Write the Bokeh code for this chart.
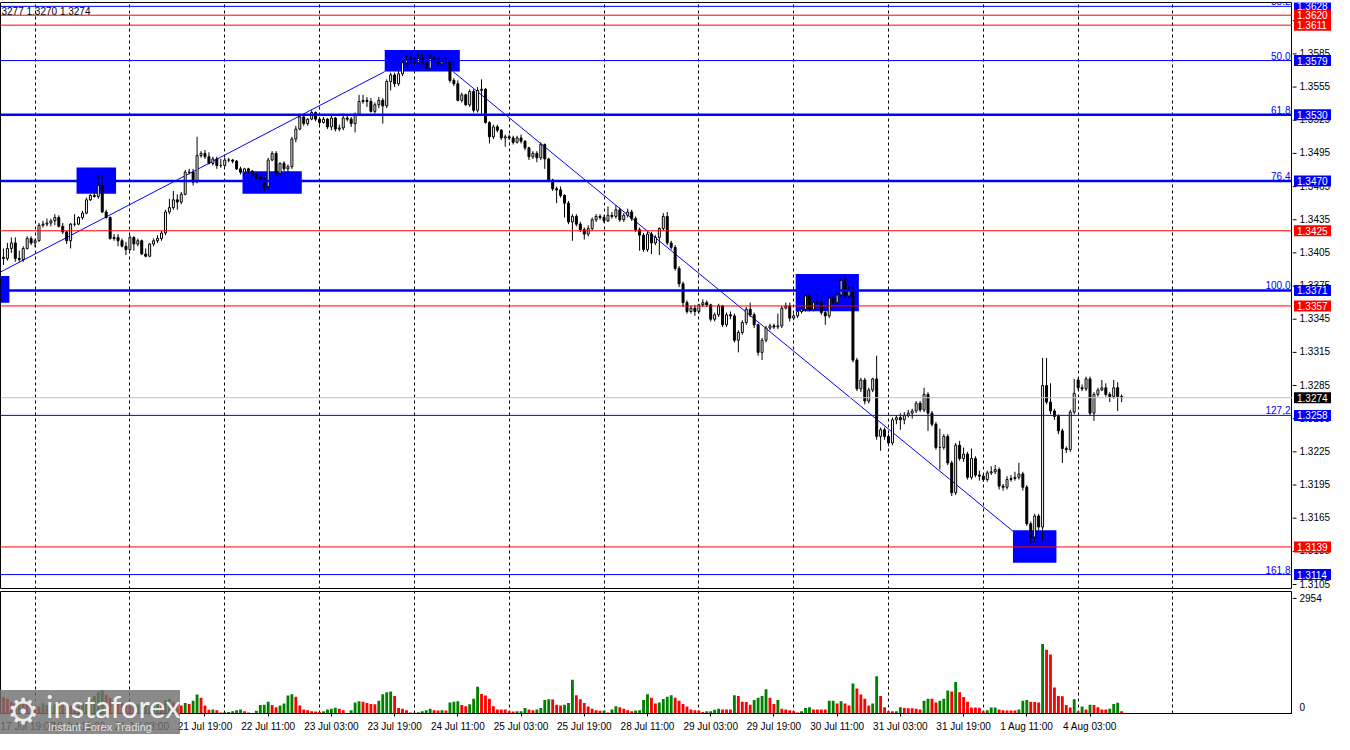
import numpy as np
from bokeh.plotting import figure
from bokeh.models import Range1d, FixedTicker, Span, Grid, Label, Div
from bokeh.layouts import column, row
from bokeh.embed import file_html
from bokeh.resources import INLINE
from bokeh.core.properties import value

FONT = "Liberation Sans"

# ---------------- data (GBPUSD H1, prices in pips: 13400 = 1.3400) ----------------
first_open = 13401
open_overrides = {272: 13290}

closes = [
    13400, 13409, 13414, 13400, 13399, 13409, 13418, 13414, 13416, 13430,
    13431, 13432, 13434, 13437, 13429, 13424, 13416, 13431, 13431, 13437,
    13441, 13453, 13457, 13456, 13466, 13442, 13437, 13418, 13419, 13416,
    13411, 13408, 13419, 13413, 13416, 13404, 13402, 13413, 13416, 13418,
    13423, 13442, 13446, 13453, 13451, 13458, 13478, 13478, 13469, 13493,
    13495, 13492, 13486, 13490, 13484, 13484, 13489, 13489, 13488, 13481,
    13478, 13481, 13479, 13476, 13473, 13472, 13465, 13489, 13495, 13477,
    13486, 13481, 13483, 13508, 13517, 13528, 13522, 13526, 13532, 13526,
    13523, 13526, 13519, 13527, 13517, 13518, 13527, 13526, 13522, 13530,
    13542, 13543, 13542, 13533, 13539, 13543, 13538, 13560, 13566, 13558,
    13567, 13577, 13580, 13580, 13577, 13581, 13577, 13572, 13581, 13580,
    13576, 13578, 13579, 13561, 13558, 13543, 13548, 13539, 13551, 13534,
    13552, 13553, 13523, 13510, 13519, 13516, 13509, 13510, 13509, 13505,
    13509, 13506, 13500, 13492, 13495, 13491, 13503, 13490, 13471, 13463,
    13462, 13457, 13450, 13433, 13438, 13431, 13426, 13422, 13427, 13435,
    13438, 13437, 13434, 13439, 13438, 13444, 13435, 13439, 13442, 13436,
    13426, 13421, 13408, 13422, 13414, 13419, 13427, 13438, 13414, 13410,
    13391, 13377, 13360, 13352, 13355, 13352, 13358, 13360, 13358, 13345,
    13349, 13357, 13340, 13349, 13348, 13326, 13333, 13342, 13354, 13349,
    13340, 13315, 13326, 13337, 13339, 13338, 13339, 13355, 13357, 13346,
    13348, 13352, 13354, 13366, 13354, 13360, 13360, 13351, 13348, 13364,
    13360, 13367, 13380, 13366, 13371, 13308, 13282, 13290, 13271, 13281,
    13291, 13239, 13245, 13239, 13233, 13254, 13256, 13254, 13258, 13260,
    13262, 13269, 13263, 13277, 13260, 13250, 13229, 13229, 13239, 13215,
    13188, 13231, 13219, 13223, 13202, 13219, 13204, 13203, 13200, 13206,
    13207, 13209, 13194, 13193, 13200, 13201, 13202, 13205, 13193, 13160,
    13148, 13167, 13157, 13285, 13270, 13262, 13257, 13244, 13228, 13227,
    13261, 13278, 13283, 13282, 13291, 13260, 13277, 13281, 13283, 13277,
    13275, 13283, 13275, 13274,
]

highs = [
    13409, 13414, 13419, 13419, 13407, 13411, 13420, 13420, 13418, 13432,
    13434, 13436, 13436, 13440, 13439, 13432, 13425, 13432, 13440, 13438,
    13443, 13455, 13458, 13461, 13475, 13475, 13444, 13438, 13422, 13422,
    13418, 13415, 13421, 13420, 13418, 13417, 13409, 13414, 13418, 13421,
    13425, 13444, 13454, 13461, 13458, 13460, 13480, 13481, 13481, 13510,
    13497, 13498, 13496, 13492, 13492, 13490, 13491, 13491, 13490, 13489,
    13483, 13482, 13482, 13480, 13477, 13475, 13474, 13491, 13497, 13497,
    13487, 13488, 13485, 13510, 13520, 13530, 13529, 13527, 13534, 13533,
    13528, 13528, 13527, 13529, 13528, 13521, 13531, 13529, 13528, 13532,
    13548, 13548, 13546, 13545, 13541, 13546, 13545, 13562, 13568, 13568,
    13570, 13580, 13584, 13583, 13582, 13585, 13585, 13578, 13585, 13583,
    13582, 13581, 13581, 13580, 13563, 13561, 13550, 13549, 13553, 13553,
    13555, 13562, 13554, 13524, 13521, 13521, 13517, 13512, 13512, 13511,
    13511, 13512, 13507, 13501, 13497, 13497, 13505, 13504, 13491, 13472,
    13465, 13465, 13458, 13452, 13440, 13440, 13433, 13428, 13430, 13437,
    13440, 13440, 13439, 13447, 13442, 13448, 13446, 13441, 13445, 13444,
    13438, 13428, 13423, 13424, 13424, 13421, 13428, 13441, 13442, 13416,
    13412, 13393, 13379, 13362, 13357, 13358, 13359, 13363, 13362, 13359,
    13351, 13359, 13358, 13351, 13352, 13350, 13335, 13344, 13356, 13360,
    13351, 13341, 13328, 13339, 13341, 13341, 13350, 13357, 13360, 13360,
    13350, 13354, 13356, 13368, 13368, 13362, 13368, 13362, 13353, 13366,
    13366, 13369, 13382, 13385, 13375, 13374, 13310, 13292, 13292, 13283,
    13292, 13312, 13247, 13247, 13241, 13256, 13258, 13260, 13261, 13263,
    13264, 13271, 13271, 13283, 13279, 13262, 13252, 13246, 13241, 13241,
    13217, 13233, 13235, 13229, 13225, 13228, 13221, 13208, 13205, 13208,
    13212, 13213, 13211, 13196, 13203, 13204, 13207, 13215, 13207, 13195,
    13162, 13169, 13169, 13310, 13310, 13287, 13264, 13259, 13246, 13230,
    13263, 13291, 13292, 13286, 13293, 13293, 13279, 13283, 13290, 13287,
    13279, 13290, 13288, 13277,
]

lows = [
    13394, 13398, 13405, 13397, 13397, 13397, 13408, 13412, 13410, 13415,
    13428, 13429, 13429, 13430, 13428, 13422, 13413, 13409, 13429, 13430,
    13435, 13440, 13452, 13455, 13454, 13441, 13436, 13417, 13416, 13411,
    13410, 13403, 13407, 13407, 13411, 13403, 13401, 13401, 13411, 13414,
    13416, 13421, 13440, 13444, 13444, 13449, 13457, 13476, 13466, 13468,
    13491, 13490, 13485, 13484, 13481, 13482, 13483, 13487, 13486, 13480,
    13476, 13477, 13477, 13474, 13471, 13470, 13461, 13463, 13488, 13474,
    13475, 13479, 13478, 13481, 13505, 13516, 13520, 13520, 13525, 13524,
    13521, 13522, 13517, 13516, 13515, 13515, 13516, 13524, 13519, 13514,
    13529, 13540, 13537, 13532, 13531, 13536, 13522, 13536, 13552, 13555,
    13556, 13565, 13575, 13577, 13574, 13576, 13575, 13570, 13571, 13578,
    13574, 13575, 13576, 13559, 13556, 13542, 13541, 13538, 13537, 13532,
    13532, 13531, 13522, 13504, 13508, 13514, 13507, 13501, 13507, 13503,
    13504, 13504, 13498, 13489, 13490, 13487, 13489, 13481, 13469, 13461,
    13450, 13455, 13437, 13431, 13416, 13429, 13424, 13417, 13420, 13425,
    13433, 13435, 13432, 13433, 13436, 13436, 13433, 13433, 13437, 13434,
    13424, 13407, 13406, 13406, 13404, 13412, 13403, 13425, 13412, 13408,
    13389, 13374, 13356, 13350, 13350, 13348, 13350, 13356, 13356, 13343,
    13343, 13347, 13338, 13338, 13345, 13324, 13315, 13331, 13340, 13347,
    13337, 13312, 13308, 13324, 13335, 13336, 13336, 13337, 13354, 13343,
    13344, 13346, 13350, 13352, 13352, 13352, 13358, 13349, 13340, 13346,
    13358, 13358, 13365, 13364, 13364, 13306, 13280, 13279, 13268, 13269,
    13279, 13236, 13226, 13236, 13230, 13231, 13250, 13245, 13250, 13256,
    13255, 13260, 13261, 13261, 13244, 13248, 13227, 13209, 13227, 13213,
    13185, 13186, 13217, 13216, 13200, 13200, 13202, 13199, 13198, 13198,
    13204, 13205, 13191, 13190, 13191, 13198, 13199, 13200, 13190, 13158,
    13142, 13143, 13154, 13144, 13268, 13259, 13254, 13241, 13215, 13224,
    13225, 13259, 13281, 13280, 13280, 13258, 13253, 13275, 13280, 13275,
    13270, 13273, 13262, 13270,
]

volumes = [
    420, 380, 300, 260, 330, 280, 240, 300, 200, 180,
    260, 220, 200, 240, 300, 260, 220, 200, 160, 200,
    260, 320, 380, 450, 560, 600, 480, 400, 330, 280,
    260, 220, 200, 180, 240, 200, 220, 180, 260, 300,
    280, 340, 380, 300, 240,
    203, 267, 243, 324, 486, 405, 203, 97, 105, 81,
    24, 30, 41, 57, 81, 105, 57, 24, 10, 73,
    219, 225, 300, 219, 162, 203, 259, 462, 494, 429,
    203, 105, 81, 57, 50, 41, 57, 105, 122, 146,
    122, 81, 16, 81, 284, 316, 300, 267, 243, 240,
    324, 494, 543, 567, 446, 138, 122, 81, 24, 20,
    30, 57, 81, 122, 81, 78, 85, 80, 284, 300,
    316, 219, 186, 235, 381, 689, 502, 462, 381, 186,
    105, 103, 100, 57, 50, 55, 60, 138, 105, 81,
    105, 138, 348, 365, 360, 227, 203, 227, 267, 867,
    470, 365, 267, 178, 122, 81, 70, 78, 24, 105,
    186, 162, 122, 81, 60, 78,
    81, 348, 494, 405, 259, 284, 373, 429, 470, 405,
    324, 243, 178, 105, 81, 78, 41, 57, 60, 97,
    122, 105, 103, 100, 470, 446, 300, 298, 227, 348,
    405, 446, 624, 405, 243, 348, 122, 105, 81, 57,
    24, 57, 138, 162, 105, 103, 101, 100, 324, 326,
    259, 316, 259, 203, 770, 640, 486, 381, 203, 259,
    956, 446, 162, 57, 55, 60, 162, 138, 136, 134,
    122, 105, 324, 381, 378, 284, 324, 381, 591, 567,
    810, 543, 421, 300, 154, 152, 146, 57, 81, 154,
    156, 105, 81, 79, 78, 77, 105, 324, 348, 300,
    298, 284,
    1782, 1636, 1515, 664, 446, 444, 219, 154, 365, 57,
    178, 105, 227, 219, 162, 105, 103, 122, 243, 275, 57,
]

time_label_bars = [3, 19, 35, 51, 67, 83, 99, 115, 131, 147, 163, 179, 195, 211, 227, 243, 259, 275]
time_labels = ["17 Jul 19:00", "18 Jul 11:00", "21 Jul 03:00", "21 Jul 19:00", "22 Jul 11:00",
               "23 Jul 03:00", "23 Jul 19:00", "24 Jul 11:00", "25 Jul 03:00", "25 Jul 19:00",
               "28 Jul 11:00", "29 Jul 03:00", "29 Jul 19:00", "30 Jul 11:00", "31 Jul 03:00",
               "31 Jul 19:00", "1 Aug 11:00", "4 Aug 03:00"]
day_start_bars = [8, 32, 56, 80, 104, 128, 152, 176, 200, 224, 248, 272, 296]

price_ticks = [1.3105, 1.3135, 1.3165, 1.3195, 1.3225, 1.3255, 1.3285, 1.3315, 1.3345,
               1.3375, 1.3405, 1.3435, 1.3465, 1.3495, 1.3525, 1.3555, 1.3585, 1.3615]
volume_max_tick = 2954

blue_thick_levels = [1.3530, 1.3470, 1.3371]
blue_thin_levels = [1.3628, 1.3579, 1.3258, 1.3114]
red_levels = [1.3620, 1.3611, 1.3425, 1.3357, 1.3139]
bid_level = 1.3274

axis_box_prices = [1.3628, 1.3620, 1.3611, 1.3579, 1.3530, 1.3470, 1.3425, 1.3371,
                   1.3357, 1.3274, 1.3258, 1.3139, 1.3114]
axis_box_kinds = ["b", "r", "r", "b", "b", "b", "r", "b", "r", "k", "b", "r", "b"]

fib_texts = ["38.2", "50.0", "61.8", "76.4", "100.0", "127,2", "161.8"]
fib_prices = [1.3628, 1.3579, 1.3530, 1.3470, 1.3371, 1.3258, 1.3114]

rect_left = [-0.75, 18.5, 60.5, 96.5, 200.5, 255.5]
rect_right = [1.5, 28.5, 75.5, 115.5, 216.5, 266.5]
rect_top = [1.3384, 1.34823, 1.34788, 1.35885, 1.33859, 1.31540]
rect_bottom = [1.3360, 1.34585, 1.34585, 1.35691, 1.33522, 1.31248]

trend_a_x = [-0.75, 96.5]
trend_a_y = [1.33877, 1.35690]
trend_b_x = [113.75, 259.75]
trend_b_y = [1.35691, 1.31408]

header_text = "3277 1.3270 1.3274"

# ---------------- derived arrays ----------------
n = min(len(closes), len(highs), len(lows))
opens_list = [first_open] + closes[:n - 1]
for k, v in open_overrides.items():
    if k < n:
        opens_list[k] = v
o = np.array(opens_list[:n], dtype=float) / 1e4
c = np.array(closes[:n], dtype=float) / 1e4
h = np.array(highs[:n], dtype=float) / 1e4
l = np.array(lows[:n], dtype=float) / 1e4
h = np.maximum(h, np.maximum(o, c))
l = np.minimum(l, np.minimum(o, c))
idx = np.arange(n)
up = c >= o
top = np.maximum(o, c)
bot = np.minimum(o, c)

vol = np.array(volumes, dtype=float)
vidx = np.arange(len(vol))
vcol = ["#008000" if (i > 0 and vol[i] > vol[i - 1]) else "#FF0000" for i in range(len(vol))]

BLUE = "#0000FF"
RED = "#FF0000"
kind_color = {"b": BLUE, "r": RED, "k": "#000000"}

FW = 1292   # chart frame width
SW = 42     # price-scale strip width
FH = 587    # price frame height
VH = 122    # volume frame height


def base_fig(**kw):
    f = figure(output_backend="svg", toolbar_location=None, **kw)
    f.grid.visible = False
    f.background_fill_color = "white"
    f.border_fill_color = "white"
    return f


# ---------------- main price panel ----------------
p = base_fig(frame_width=FW, frame_height=FH, x_range=Range1d(-0.75, 326.25),
             y_range=Range1d(1.31005, 1.36315), x_axis_location=None, y_axis_location=None,
             min_border_left=0, min_border_right=0, min_border_top=2, min_border_bottom=0)
p.outline_line_color = "black"
p.outline_line_width = 1

p.add_layout(Grid(dimension=0, ticker=FixedTicker(ticks=day_start_bars),
                  grid_line_color="black", grid_line_dash="3 3", grid_line_width=1))

p.quad(left=rect_left, right=rect_right, top=rect_top, bottom=rect_bottom,
       fill_color=BLUE, line_color=None)

for v in blue_thick_levels:
    p.add_layout(Span(location=v, dimension="width", line_color=BLUE, line_width=2.5))
for v in blue_thin_levels:
    p.add_layout(Span(location=v, dimension="width", line_color=BLUE, line_width=1))
for v in red_levels:
    p.add_layout(Span(location=v, dimension="width", line_color=RED, line_width=1))
p.add_layout(Span(location=bid_level, dimension="width", line_color="#C0C0C0", line_width=1))

p.line(trend_a_x, trend_a_y, line_color=BLUE, line_width=1)
p.line(trend_b_x, trend_b_y, line_color=BLUE, line_width=1)

p.segment(x0=idx, y0=l, x1=idx, y1=h, line_color="black", line_width=1)
p.vbar(x=idx[up], top=top[up], bottom=bot[up], width=0.5,
       fill_color="white", line_color="black", line_width=1)
p.vbar(x=idx[~up], top=top[~up], bottom=bot[~up], width=0.5,
       fill_color="black", line_color="black", line_width=1)

for t, v in zip(fib_texts, fib_prices):
    p.add_layout(Label(x=FW - 2, y=v, x_units="screen", y_units="data", text=t,
                       text_font=FONT, text_font_size="10px", text_color=BLUE,
                       text_align="right", text_baseline="bottom", y_offset=1))

p.add_layout(Label(x=1, y=FH - 9, x_units="screen", y_units="screen", text=header_text,
                   text_font=FONT, text_font_size="10px", text_color="black",
                   text_baseline="middle", text_align="left"))

# ---------------- price scale strip ----------------
ps = base_fig(frame_width=SW, frame_height=FH, x_range=Range1d(0, SW), y_range=p.y_range,
              x_axis_location=None, y_axis_location=None,
              min_border_left=0, min_border_right=0, min_border_top=2, min_border_bottom=0)
ps.outline_line_color = None
ps.segment(x0=[0] * len(price_ticks), x1=[4] * len(price_ticks),
           y0=price_ticks, y1=price_ticks, line_color="black", line_width=1)
ps.text(x=[7] * len(price_ticks), y=price_ticks, text=[f"{v:.4f}" for v in price_ticks],
        text_font=value(FONT), text_font_size="10px", text_color="black",
        text_baseline="middle", text_align="left", y_offset=-1)
ps.rect(x=[20] * len(axis_box_prices), y=axis_box_prices, width=37, height=11,
        width_units="screen", height_units="screen",
        fill_color=[kind_color[k] for k in axis_box_kinds], line_color=None)
ps.text(x=[4.5] * len(axis_box_prices), y=axis_box_prices,
        text=[f"{v:.4f}" for v in axis_box_prices],
        text_font=value(FONT), text_font_size="10px", text_color="white",
        text_baseline="middle", text_align="left")

# ---------------- volume panel ----------------
pv = base_fig(frame_width=FW, frame_height=VH, x_range=p.x_range, y_range=Range1d(0, 3130),
              y_axis_location=None, x_axis_location="below",
              min_border_left=0, min_border_right=0, min_border_top=2, min_border_bottom=0)
pv.outline_line_color = "black"
pv.add_layout(Grid(dimension=0, ticker=FixedTicker(ticks=day_start_bars),
                   grid_line_color="black", grid_line_dash="3 3", grid_line_width=1))
pv.vbar(x=vidx, top=vol, bottom=0, width=0.72, fill_color=vcol, line_color=None)

xa = pv.xaxis[0]
xa.ticker = FixedTicker(ticks=time_label_bars)
xa.major_label_overrides = {b: t for b, t in zip(time_label_bars, time_labels)}
xa.major_label_text_align = "left"
xa.major_label_text_font = FONT
xa.major_label_text_font_size = "10px"
xa.major_label_text_color = "black"
xa.major_tick_out = 3
xa.major_tick_in = 0
xa.minor_tick_out = 0
xa.minor_tick_in = 0
xa.axis_line_color = "black"
xa.major_label_standoff = 4

pvs = base_fig(frame_width=SW, frame_height=VH, x_range=Range1d(0, SW), y_range=pv.y_range,
               x_axis_location=None, y_axis_location=None,
               min_border_left=0, min_border_right=0, min_border_top=2, min_border_bottom=0)
pvs.outline_line_color = None
pvs.segment(x0=[0, 0], x1=[4, 4], y0=[0, volume_max_tick], y1=[0, volume_max_tick],
            line_color="black", line_width=1)
pvs.text(x=[7], y=[volume_max_tick], text=[str(volume_max_tick)], text_font=value(FONT),
         text_font_size="10px", text_color="black", text_baseline="middle", text_align="left")
pvs.text(x=[7], y=[0], text=["0"], text_font=value(FONT),
         text_font_size="10px", text_color="black", text_baseline="middle", text_align="left",
         y_offset=-7)

# ---------------- watermark logo ----------------
logo_html = (
    '<div style="position:relative;width:180px;height:44px;'
    'background:rgba(112,112,112,0.82);">'
    '<span style="position:absolute;left:7px;top:2px;font-family:\'DejaVu Sans\';'
    'font-size:36px;line-height:40px;color:rgba(255,255,255,0.85);">&#9881;</span>'
    '<span style="position:absolute;left:46px;top:1px;font-family:Lato;'
    'font-size:31px;line-height:31px;color:rgba(255,255,255,0.9);">instaforex</span>'
    '<span style="position:absolute;left:48px;top:31px;font-family:\'Liberation Sans\';'
    'font-size:11px;line-height:12px;color:rgba(235,235,235,0.95);">Instant Forex Trading</span>'
    '</div>'
)
logo = Div(text=logo_html, width=180, height=44, margin=(-44, 0, 0, 0),
           styles={"position": "relative", "z-index": "10"})

layout = column(row(p, ps, spacing=0), row(pv, pvs, spacing=0), logo, spacing=0)
open("out.html", "w").write(file_html(layout, INLINE))
